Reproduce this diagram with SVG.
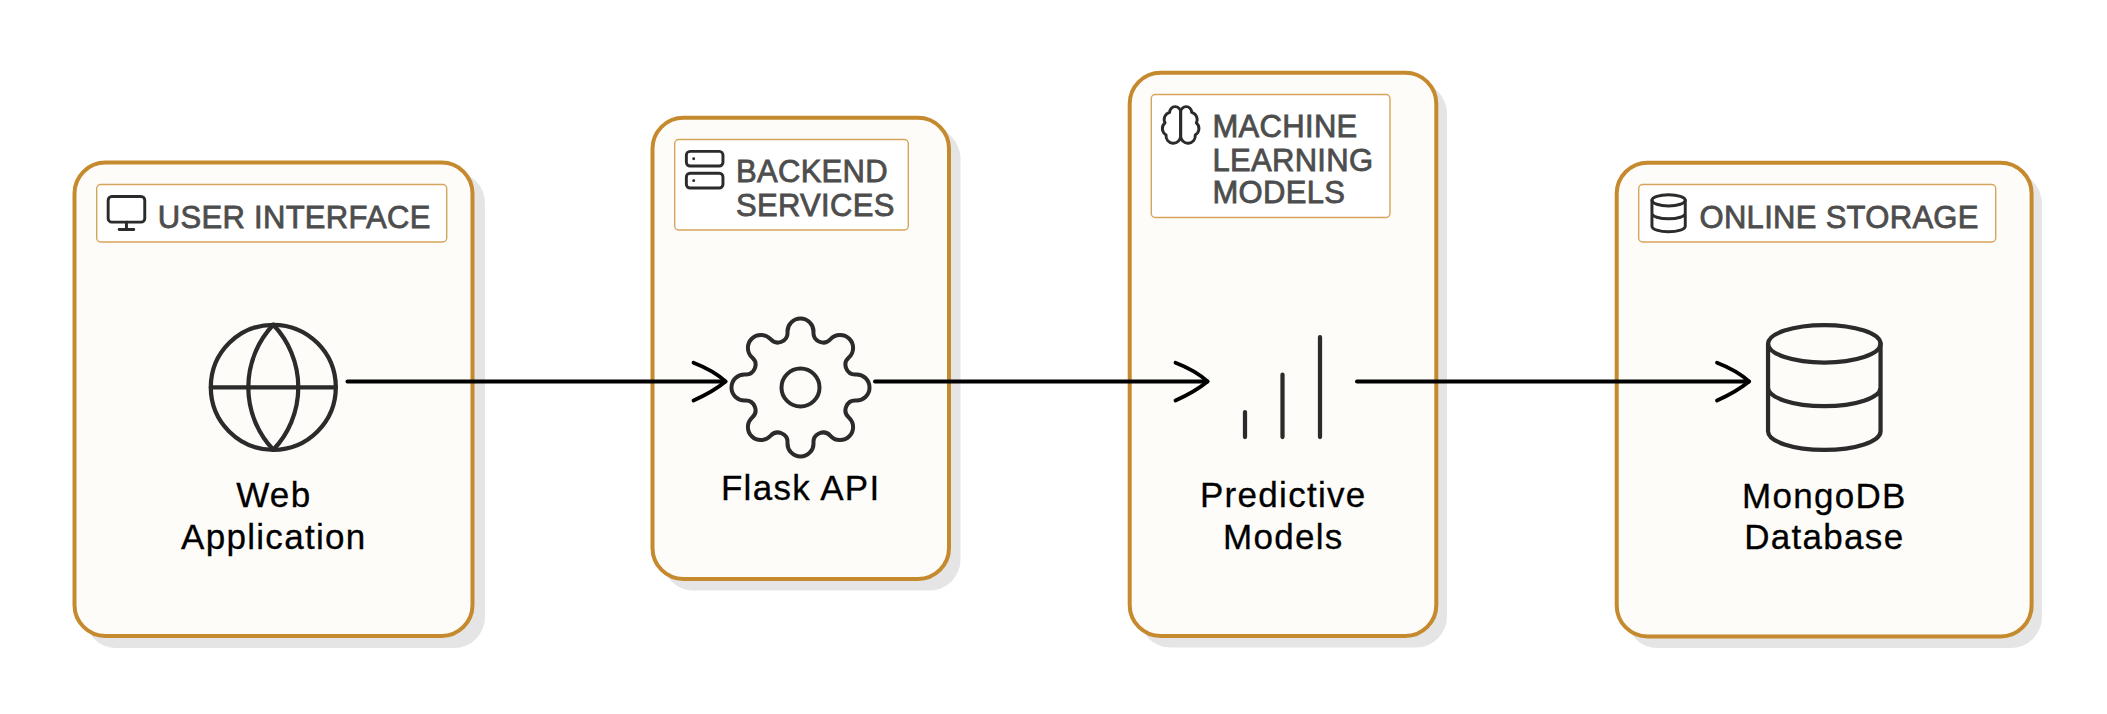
<svg xmlns="http://www.w3.org/2000/svg" width="2107" height="714" viewBox="0 0 2107 714">
<style>
.shadow{fill:#e5e5e5}
.card{fill:#fdfcf8;stroke:#c68a2e;stroke-width:4}
.tag{fill:#fff;stroke:#d7a45c;stroke-width:1.4}
.tt{font-family:"Liberation Sans",Arial,sans-serif;font-size:31px;fill:#4d4d4d;stroke:#4d4d4d;stroke-width:.8;letter-spacing:.3px}
.nl{font-family:"Liberation Sans",Arial,sans-serif;font-size:35px;fill:#000;stroke:#000;stroke-width:.3;letter-spacing:1.3px;text-anchor:middle}
.ico{fill:none;stroke:#2b2b2b;stroke-linecap:round;stroke-linejoin:round}
.sm{stroke-width:1.6}
.lg{stroke-width:.68}
.edge{fill:none;stroke:#000;stroke-width:4;stroke-linecap:round}
</style>
<defs>
<marker id="arrow" markerUnits="userSpaceOnUse" markerWidth="44" markerHeight="50" refX="38" refY="25" orient="auto" overflow="visible">
<path d="M6 6.300Q26 14 38 25Q26 35 6 44" fill="none" stroke="#000" stroke-width="3.800" stroke-linecap="round" stroke-linejoin="round"/>
</marker>
</defs>
<rect width="2107" height="714" fill="#fff"/>
<g id="user-interface">
<rect class="shadow" x="85" y="172" width="400" height="476" rx="31"/>
<rect class="card" x="74.500" y="162.500" width="398" height="473.500" rx="31"/>
<rect class="tag" x="96.700" y="184.500" width="350" height="57.500" rx="4"/>
<g class="ico sm" transform="translate(104.500 191) scale(1.83)"><rect width="20" height="14" x="2" y="3" rx="2"/><path d="M8 21h8M12 17v4"/></g>
<text class="tt" x="157.800" y="227.500">USER INTERFACE</text>
<g class="ico lg" transform="translate(198.300 312.300) scale(6.25)"><circle cx="12" cy="12" r="10"/><path d="M12 2a14.500 14.500 0 0 0 0 20 14.500 14.500 0 0 0 0-20M2 12h20"/></g>
<text class="nl" x="273.800" y="506.500">Web</text>
<text class="nl" x="273.800" y="549">Application</text>
</g>
<g id="backend-services">
<rect class="shadow" x="662.500" y="127.500" width="298" height="463" rx="31"/>
<rect class="card" x="652.500" y="117.800" width="296.500" height="461.200" rx="31"/>
<rect class="tag" x="674.700" y="139.500" width="233.600" height="90.500" rx="4"/>
<g class="ico sm" transform="translate(682.700 147.700) scale(1.83)"><rect width="20" height="8" x="2" y="2" rx="2"/><rect width="20" height="8" x="2" y="14" rx="2"/><path d="M6 6h.01M6 18h.01"/></g>
<text class="tt" x="736" y="182.300">BACKEND</text>
<text class="tt" x="736" y="215.700">SERVICES</text>
<g class="ico" stroke-width="4" transform="translate(800.500 387.500)"><path d="M-12.98-55.310A13 13 0 1 1 12.980-55.310A9.700 9.700 0 0 0 29.930-48.290A13 13 0 1 1 48.290-29.930A9.700 9.700 0 0 0 55.310-12.980A13 13 0 1 1 55.310 12.980A9.700 9.700 0 0 0 48.290 29.930A13 13 0 1 1 29.930 48.290A9.700 9.700 0 0 0 12.980 55.310A13 13 0 1 1 -12.980 55.310A9.700 9.700 0 0 0 -29.930 48.290A13 13 0 1 1 -48.290 29.930A9.700 9.700 0 0 0 -55.310 12.980A13 13 0 1 1 -55.310 -12.980A9.700 9.700 0 0 0 -48.290 -29.930A13 13 0 1 1 -29.930 -48.290A9.700 9.700 0 0 0 -12.980 -55.310Z"/><circle r="19"/></g>
<text class="nl" x="800.700" y="500">Flask API</text>
</g>
<g id="machine-learning-models">
<rect class="shadow" x="1139.500" y="82.500" width="307.500" height="565" rx="31"/>
<rect class="card" x="1129.700" y="72.800" width="306.600" height="563.200" rx="31"/>
<rect class="tag" x="1151.300" y="94.500" width="238.700" height="123" rx="4"/>
<g class="ico sm" transform="translate(1158.700 103) scale(1.83)"><path d="M12 5a3 3 0 1 0-5.997.125 4 4 0 0 0-2.526 5.770 4 4 0 0 0 .556 6.588A4 4 0 1 0 12 18Z"/><path d="M12 5a3 3 0 1 1 5.997.125 4 4 0 0 1 2.526 5.770 4 4 0 0 1-.556 6.588A4 4 0 1 1 12 18Z"/></g>
<text class="tt" x="1212.500" y="137">MACHINE</text>
<text class="tt" x="1212.500" y="170.500">LEARNING</text>
<text class="tt" x="1212.500" y="203">MODELS</text>
<g class="ico lg" transform="translate(1207.500 312) scale(6.25)"><path d="M12 20V10M18 20V4M6 20v-4"/></g>
<text class="nl" x="1283.300" y="506.600">Predictive</text>
<text class="nl" x="1283.300" y="548.700">Models</text>
</g>
<g id="online-storage">
<rect class="shadow" x="1626.500" y="172.500" width="415.500" height="475.500" rx="31"/>
<rect class="card" x="1616.700" y="162.700" width="414.900" height="473.800" rx="31"/>
<rect class="tag" x="1638.700" y="184.500" width="357" height="57.500" rx="4"/>
<g class="ico sm" transform="translate(1646.400 191.100) scale(1.85)"><ellipse cx="12" cy="5" rx="9" ry="3"/><path d="M3 5V19A9 3 0 0 0 21 19V5M3 12A9 3 0 0 0 21 12"/></g>
<text class="tt" x="1699.500" y="227.500">ONLINE STORAGE</text>
<g class="ico lg" transform="translate(1749.300 312.500) scale(6.25)"><ellipse cx="12" cy="5" rx="9" ry="3"/><path d="M3 5V19A9 3 0 0 0 21 19V5M3 12A9 3 0 0 0 21 12"/></g>
<text class="nl" x="1824.300" y="507.500">MongoDB</text>
<text class="nl" x="1824.300" y="549">Database</text>
</g>
<g id="connectors">
<path class="edge" marker-end="url(#arrow)" d="M347.500 381.500H725.500"/>
<path class="edge" marker-end="url(#arrow)" d="M875 381.500H1207.500"/>
<path class="edge" marker-end="url(#arrow)" d="M1357 381.500H1749"/>
</g>
</svg>
